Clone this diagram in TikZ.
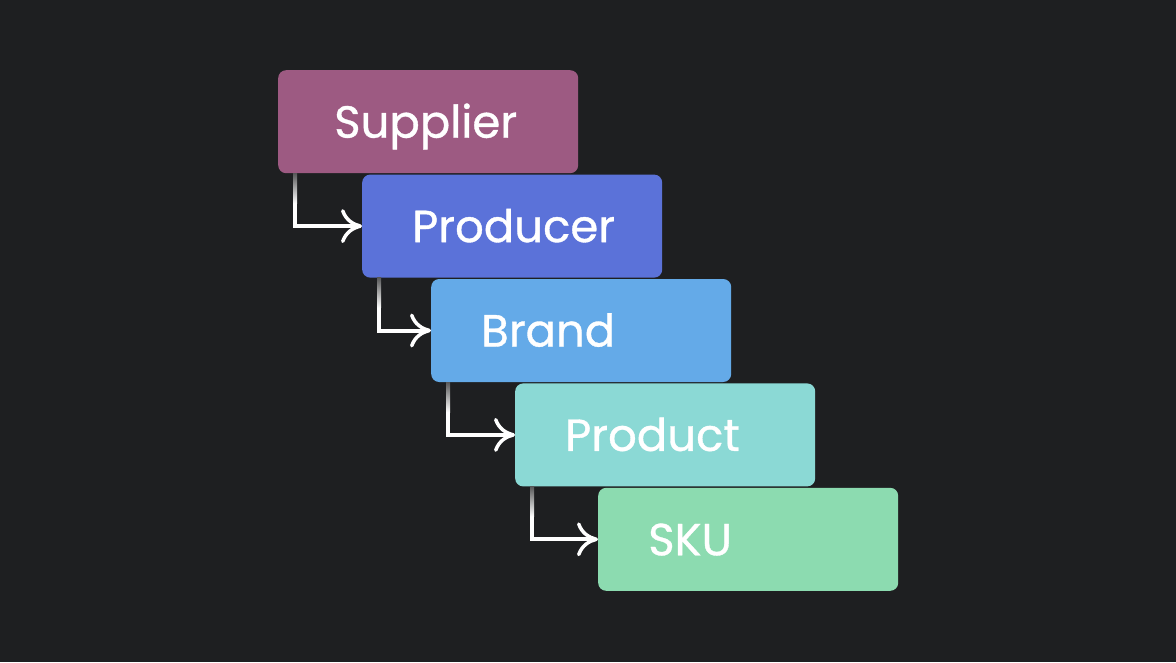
\documentclass[tikz,border=0pt]{standalone}
\usepackage{fontspec}
\setmainfont{Poppins}
\newfontfamily\boxfont{Poppins}[FakeBold=0.8]
\usepackage{tikz}
\usetikzlibrary{positioning, arrows.meta}
\definecolor{bg}{HTML}{1E1F21}
\definecolor{supc}{HTML}{9D5A82}
\definecolor{proc}{HTML}{5B72D9}
\definecolor{brac}{HTML}{64AAE8}
\definecolor{prtc}{HTML}{8BD9D5}
\definecolor{skuc}{HTML}{8CDBB0}
\tikzstyle{box} = [rectangle, rounded corners=8pt, minimum height=103pt, text width=200pt, inner xsep=50pt, text height=32pt, text depth=0pt, align=left, text=white, font=\boxfont\fontsize{45}{54}\selectfont]
\tikzstyle{arrow} = [white, line width=4pt, -{Computer Modern Rightarrow[length=21pt, width=34pt, line width=3.5pt]}]
\tikzstyle{fade} = [top color=gray!60!bg, bottom color=white]

\begin{document}
\begin{tikzpicture}[x=1pt, y=-1pt]
\useasboundingbox [fill=bg] (0,0) rectangle (1176,662);
\node (sup) [box, fill=supc, anchor=north west] at (278,70) {\hspace*{6pt}Supplier};
\node (prod) [box, fill=proc, below right=1pt and 84pt of sup.south west] {Producer};
\node (brand) [box, fill=brac, below right=1pt and 69pt of prod.south west] {Brand};
\node (prdt) [box, fill=prtc, below right=1pt and 84pt of brand.south west] {Product};
\node (sku) [box, fill=skuc, below right=1pt and 83pt of prdt.south west] {SKU};
\draw [arrow] ([xshift=17pt]sup.south west) |- (prod.west);
\draw [arrow] ([xshift=17pt]prod.south west) |- (brand.west);
\draw [arrow] ([xshift=17pt]brand.south west) |- (prdt.west);
\draw [arrow] ([xshift=17pt]prdt.south west) |- (sku.west);
% faded top of each link
\foreach \n in {sup, prod, brand, prdt}
  \shade [fade] ([xshift=15pt]\n.south west) rectangle ([xshift=19pt, yshift=-30pt]\n.south west);
\end{tikzpicture}
\end{document}
